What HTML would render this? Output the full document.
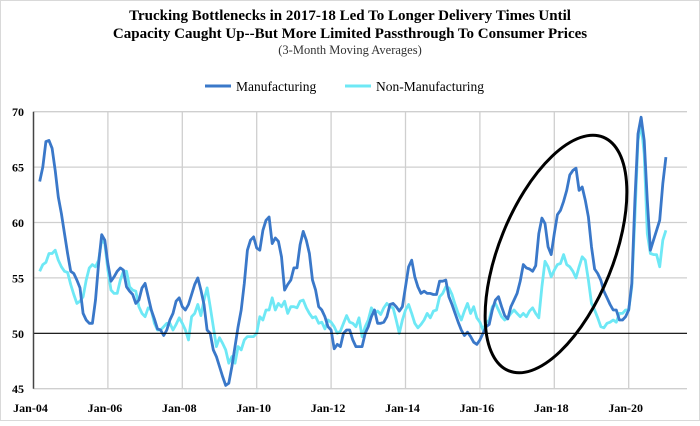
<!DOCTYPE html>
<html><head><meta charset="utf-8"><style>
body{margin:0;background:#fff;width:700px;height:421px;overflow:hidden}
svg{font-family:"Liberation Serif",serif}
</style></head><body>
<svg width="700" height="421">
<rect x="0.5" y="0.5" width="699" height="420" fill="#fff" stroke="#d9d9d9"/>
<text x="350" y="20" text-anchor="middle" font-size="15" font-weight="bold">Trucking Bottlenecks in 2017-18 Led To Longer Delivery Times Until</text>
<text x="350" y="38" text-anchor="middle" font-size="15" font-weight="bold">Capacity Caught Up--But More Limited Passthrough To Consumer Prices</text>
<text x="350" y="54" text-anchor="middle" font-size="12.5" fill="#333">(3-Month Moving Averages)</text>
<g>
<line x1="205" y1="86" x2="231" y2="86" stroke="#3a78c9" stroke-width="3"/>
<text x="236" y="91" font-size="13.5">Manufacturing</text>
<line x1="345" y1="86" x2="371" y2="86" stroke="#6ee8f5" stroke-width="3"/>
<text x="376" y="91" font-size="13.5">Non-Manufacturing</text>
</g>
<g id="grid"></g><g id="series"></g><g id="axes"></g>
<ellipse cx="556" cy="254" rx="126" ry="57" transform="rotate(-68 556 254)" fill="none" stroke="#000" stroke-width="3"/>
</svg>
<script>
const startMonth = 2;
const manufacturing = [63.7,65,67.3,67.4,66.7,64.7,62.3,60.8,59,57.2,55.6,55.4,54.8,54.1,51.8,51.2,50.9,50.9,53,56.3,58.9,58.4,56.3,54.7,55.1,55.6,55.9,55.7,54.2,53.8,53.5,52.7,53,54.1,54.5,53.3,52.1,51.3,50.4,50.3,49.8,50.3,51.2,51.8,52.9,53.2,52.4,52.1,52.6,53.5,54.4,55,53.9,52.6,50.3,50,48.5,47.9,47,46.1,45.3,45.5,47,48.8,50.6,52.1,54.5,57.5,58.4,58.7,57.7,57.5,59.3,60.2,60.5,58.1,58.6,58.3,56.9,53.9,54.4,54.8,55.9,55.9,58,59.2,58.4,57.2,54.8,53.9,52.4,52.1,51.5,50.6,50.3,48.6,49,48.8,50,50.3,50.3,
49.4,48.8,48.8,48.8,50,50.6,51.5,52.1,50.9,50.9,51,51.5,52.6,52.7,52.4,52,52.4,54.2,56,56.6,55.1,54.2,53.6,53.8,53.6,53.6,53.5,53.5,54.7,54.7,54.8,53.3,52.6,51.8,51,50.3,49.8,50.1,49.7,49.2,49,49.4,50,50.6,50.8,52.1,53,53.3,52.4,51.6,51.3,52.4,53,53.6,54.7,56.2,55.9,55.8,55.6,56.1,59,60.4,59.9,57.8,57.1,59,60.7,61.1,61.9,62.9,64.3,64.7,64.9,62.9,63.2,62,60.5,57.8,55.8,55.4,54.8,53.8,53.2,52.6,52.1,52.1,51.2,51.2,51.5,52.1,54.5,62,68,69.5,67.4,62,57.5,58.4,59.3,60.2,63.5,65.9];
const nonManufacturing = [55.6,56.2,56.4,57.2,57.2,57.5,56.6,56,55.6,55.5,54.4,53.5,52.7,52.9,53.3,54.8,55.9,56.2,56,56.6,58.4,58.1,55.7,53.9,53.6,53.6,54.8,55.6,55.6,54.2,53.9,53.8,52.4,51.8,51.5,52.3,52.1,50.9,50.3,50.3,50.6,50.9,50.9,50.3,50.8,51.4,50.9,50.3,49.4,51.5,51.8,52.6,51.6,53,54.1,52.4,50.6,48.8,49.6,49.1,48.5,47.3,47.9,47.3,48.8,48.5,49.4,49.7,49.7,49.7,50,51.5,51.2,52.1,52.1,53.2,52.1,52.7,52.4,52.9,51.8,52.4,52.4,52.3,52.9,53,52.3,51.8,51.4,51.5,50.9,51,50.4,51.2,51,50.6,50,50.2,50.9,51.6,51,
50.9,50.6,51.4,49.7,50.6,51.2,52.3,51.8,52,51.7,52.3,52.7,52.4,52.3,51.2,50,51.2,52.1,52.6,51.8,50.9,50.5,50.8,51.2,51.8,51.4,52,52.1,53.3,53.6,54.2,54.1,53.5,52.6,51.8,51.2,52,52.7,51.8,52.4,51.4,51,50.3,50.9,51.2,52.4,52.7,52.1,51.5,51.2,51.4,51.8,52.1,51.8,51.5,51.8,51.5,52,52.3,51.8,51.4,54.2,56.5,56,55.1,55.7,56.2,56.3,57.1,56.2,56,55.6,55,56,56.9,56.6,54.8,52.7,52.1,51.4,50.6,50.5,50.9,51,51.2,51,51.8,51.8,52.1,52.1,54.2,60.5,67.4,68.9,66.2,59,57.2,57.1,57.1,56,58.4,59.3];
const yTicks = [45,50,55,60,65,70];
const xTickLabels = ["Jan-04","Jan-06","Jan-08","Jan-10","Jan-12","Jan-14","Jan-16","Jan-18","Jan-20"];
const NS="http://www.w3.org/2000/svg";
const x0=33.5, pxPerMonth=3.1, y45=388.7, y70=111.7, right=687;
const xs=m=>x0+m*pxPerMonth;
const ys=v=>y45-(v-45)*(y45-y70)/25;
function mk(tag,attrs,parent){const e=document.createElementNS(NS,tag);for(const k in attrs)e.setAttribute(k,attrs[k]);parent.appendChild(e);return e;}
const grid=document.getElementById('grid'),axes=document.getElementById('axes'),series=document.getElementById('series');
yTicks.forEach(t=>{
 if(t!==50&&t!==45){const g=mk('line',{x1:x0,x2:right,y1:ys(t),y2:ys(t),stroke:'#cfcfcf','stroke-width':1.3},grid);
 
 }
 const l=mk('text',{x:24,y:ys(t)+4.5,'text-anchor':'end','font-size':12,'font-weight':'bold'},axes);l.textContent=t;
 
 
});
const b=mk('line',{x1:x0,x2:right,y1:ys(45),y2:ys(45),stroke:'#cfcfcf','stroke-width':1.3},grid);


xTickLabels.forEach((s,i)=>{
 const x=xs(i*24);
 if(i>0){const g=mk('line',{x1:x,x2:x,y1:y70,y2:y45,stroke:'#cfcfcf','stroke-width':1.3},grid);
 
 }
 const l=mk('text',{x:x-3,y:412,'text-anchor':'middle','font-size':12,'font-weight':'bold'},axes);l.textContent=s;
 
 
});
const z=mk('line',{x1:x0,x2:right,y1:ys(50),y2:ys(50),stroke:'#000','stroke-width':1.2},axes);


const ya=mk('line',{x1:x0,x2:x0,y1:y70,y2:y45,stroke:'#444','stroke-width':1.5},axes);


function draw(arr,color,name){
 const d=arr.map((v,i)=>(i?'L':'M')+xs(startMonth+i).toFixed(1)+','+ys(v).toFixed(1)).join('');
 const p=mk('path',{d:d,fill:'none',stroke:color,'stroke-width':2.8,'stroke-linejoin':'round'},series);
 
 
}
draw(nonManufacturing,'#6ee8f5','non-manufacturing-line');
draw(manufacturing,'#3a78c9','manufacturing-line');
</script>
</body></html>
